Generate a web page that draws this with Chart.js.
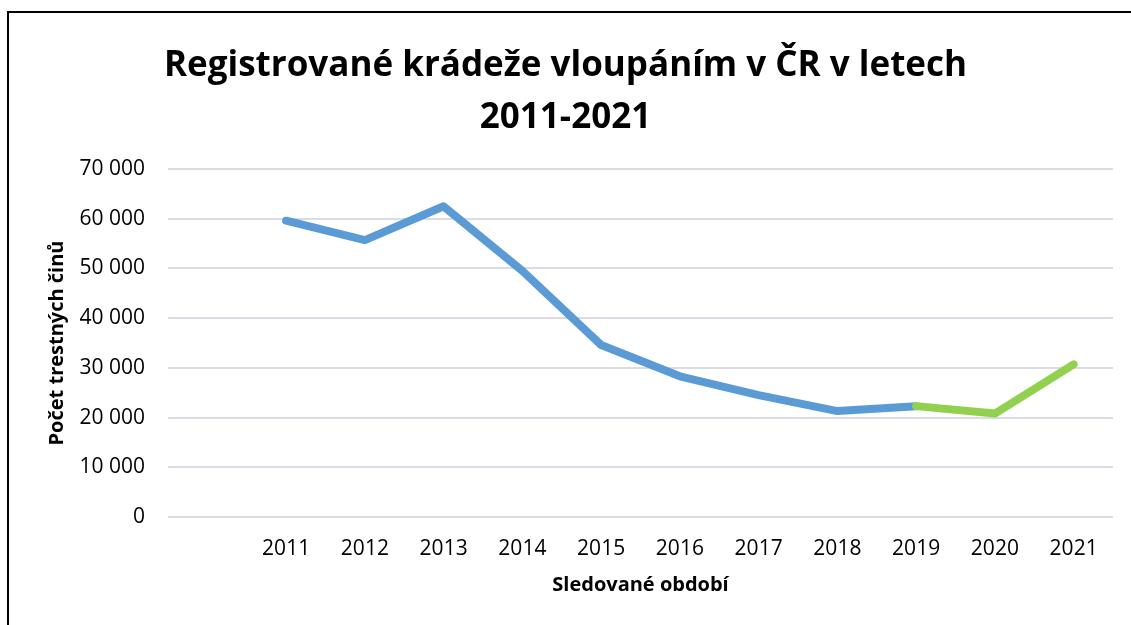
<!DOCTYPE html>
<html lang="cs">
<head>
<meta charset="utf-8">
<title>Registrované krádeže vloupáním v ČR</title>
<script src="https://cdn.jsdelivr.net/npm/chart.js@4/dist/chart.umd.min.js"></script>
<style>
  html, body { margin: 0; padding: 0; background: #fff; }
  #wrap { position: relative; width: 1131px; height: 625px; overflow: hidden; }
  #frame { position: absolute; left: 7px; top: 11px; width: 2000px; height: 2000px;
           border-left: 2px solid #000; border-top: 2px solid #000; }
  canvas { position: absolute; left: 0; top: 0; }
</style>
</head>
<body>
<div id="wrap">
  <div id="frame"></div>
  <canvas id="myChart" width="1131" height="625"></canvas>
</div>
<script>
// data
const years = ['', '2011', '2012', '2013', '2014', '2015', '2016', '2017', '2018', '2019', '2020', '2021'];
const thefts = [null, 59600, 55700, 62500, 49500, 34600, 28300, 24500, 21300, 22300, 20800, 30700];
const yTicks = [0, 10000, 20000, 30000, 40000, 50000, 60000, 70000];
const highlightFrom = '2019';

const blue = '#5b9bd5';
const green = '#92d050';
const font = '"Open Sans", "DejaVu Sans", sans-serif';

document.addEventListener('DOMContentLoaded', function () {
    const ctx = document.getElementById('myChart').getContext('2d');
    const greenStart = years.indexOf(highlightFrom);

    new Chart(ctx, {
        type: 'line',
        data: {
            labels: years,
            datasets: [{
                label: 'Počet trestných činů',
                data: thefts,
                borderColor: blue,
                borderWidth: 8,
                borderCapStyle: 'round',
                borderJoinStyle: 'round',
                pointRadius: 0,
                tension: 0,
                segment: {
                    borderColor: c => c.p0DataIndex >= greenStart ? green : blue
                }
            }]
        },
        options: {
            responsive: false,
            animation: false,
            layout: { padding: { left: 18, right: 18, top: 0, bottom: 0 } },
            plugins: {
                legend: { display: false },
                tooltip: { enabled: false },
                title: {
                    display: true,
                    text: ['Registrované krádeže vloupáním v ČR v letech', '2011-2021'],
                    color: '#000',
                    font: { family: font, size: 35, weight: 'bold', lineHeight: 52 / 35 },
                    padding: { top: 40, bottom: 25 }
                }
            },
            scales: {
                x: {
                    offset: true,
                    grid: { display: false, drawTicks: false },
                    border: { display: false },
                    ticks: { color: '#000', padding: 19, font: { family: font, size: 21 }, maxRotation: 0 },
                    title: {
                        display: true,
                        text: 'Sledované období',
                        color: '#000',
                        font: { family: font, size: 20, weight: 'bold' },
                        padding: { top: 0, bottom: 28 }
                    },
                    afterFit: s => { s.height = 108; }
                },
                y: {
                    min: 0,
                    max: 70000,
                    afterBuildTicks: s => { s.ticks = yTicks.map(v => ({ value: v })); },
                    grid: { color: '#d9dde3', lineWidth: 2, drawTicks: false },
                    border: { display: false },
                    ticks: {
                        color: '#000',
                        padding: 23,
                        font: { family: font, size: 21 },
                        callback: v => v.toLocaleString('en-US').replace(/,/g, ' ')
                    },
                    title: {
                        display: true,
                        text: 'Počet trestných činů',
                        color: '#000',
                        font: { family: font, size: 20, weight: 'bold' },
                        padding: { top: 27, bottom: 0 }
                    },
                    afterFit: s => { s.width = 150; }
                }
            }
        }
    });
});
</script>
</body>
</html>
